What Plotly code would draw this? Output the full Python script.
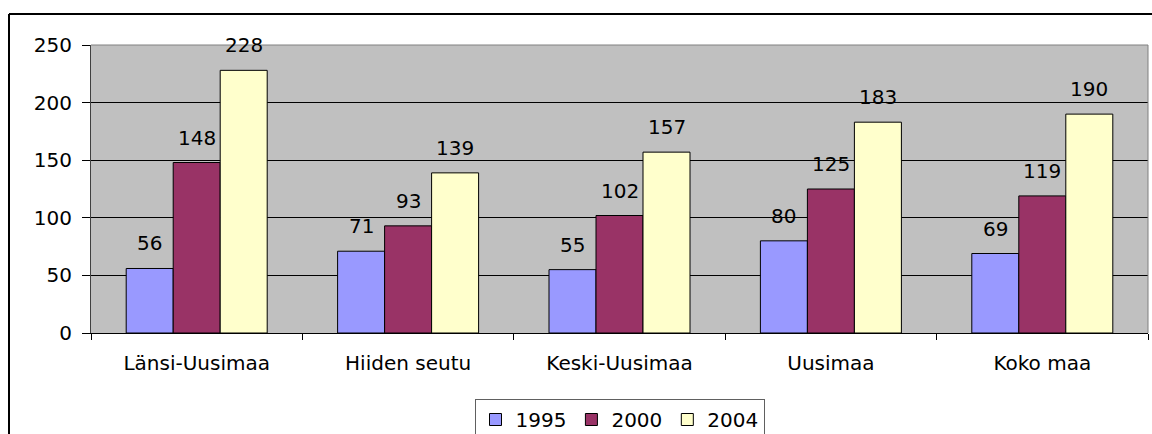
import plotly.graph_objects as go

categories = ["Länsi-Uusimaa", "Hiiden seutu", "Keski-Uusimaa", "Uusimaa", "Koko maa"]
series_names = ["1995", "2000", "2004"]
v1995 = [56, 71, 55, 80, 69]
v2000 = [148, 93, 102, 125, 119]
v2004 = [228, 139, 157, 183, 190]
y_ticks = [0, 50, 100, 150, 200, 250]

colors = ["#9999FF", "#993366", "#FFFFCC"]
FONT = "DejaVu Sans"
FS = 20

W, H = 1152, 434
ML, MR, MT, MB = 91, 4, 45, 101
BARGAP = 0.333

fig = go.Figure()
all_vals = [v1995, v2000, v2004]
for name, vals, col in zip(series_names, all_vals, colors):
    fig.add_trace(go.Bar(
        name=name, x=categories, y=vals,
        marker=dict(color=col, line=dict(color="#000000", width=1)),
    ))

# data labels above bars
bw = (1 - BARGAP) / len(all_vals)
annotations = []
for k, vals in enumerate(all_vals):
    off = (k - (len(all_vals) - 1) / 2) * bw
    for i, v in enumerate(vals):
        annotations.append(dict(
            x=i + off, y=v, xref="x", yref="y", text=str(v),
            showarrow=False, yanchor="bottom", xanchor="center",
            yshift=11, font=dict(family=FONT, size=FS, color="#000000"),
        ))

pw = W - ML - MR
ph = H - MT - MB
def px_x(x):
    return (x - ML) / pw
def px_y(y):
    return (H - MB - y) / ph

shapes = [
    # gray plot border top/right
    dict(type="line", xref="paper", yref="paper", x0=0, x1=1, y0=1, y1=1,
         line=dict(color="#808080", width=1), layer="above"),
    dict(type="line", xref="paper", yref="paper", x0=1, x1=1, y0=0, y1=1,
         line=dict(color="#808080", width=1), layer="above"),
    # outer chart border (left and top)
    dict(type="line", xref="paper", yref="paper", x0=px_x(9), x1=px_x(W + 20),
         y0=px_y(14), y1=px_y(14), line=dict(color="#000000", width=2)),
    dict(type="line", xref="paper", yref="paper", x0=px_x(9), x1=px_x(9),
         y0=px_y(14), y1=px_y(H + 20), line=dict(color="#000000", width=2)),
]

fig.update_layout(
    width=W, height=H, autosize=False,
    margin=dict(l=ML, r=MR, t=MT, b=MB),
    paper_bgcolor="#FFFFFF", plot_bgcolor="#C0C0C0",
    barmode="group", bargap=BARGAP, bargroupgap=0,
    font=dict(family=FONT, size=FS, color="#000000"),
    showlegend=True,
    legend=dict(orientation="h", x=px_x(619.5), xanchor="center", xref="paper",
                y=1 - 399 / H, yanchor="top", yref="container",
                bordercolor="#606060", borderwidth=1, bgcolor="#FFFFFF",
                font=dict(family=FONT, size=FS), itemwidth=30,
                tracegroupgap=0),
    annotations=annotations,
    shapes=shapes,
)
fig.update_xaxes(
    type="category", showline=True, linecolor="#000000", linewidth=1,
    ticks="outside", tickson="boundaries", ticklen=6, tickcolor="#000000",
    showgrid=False, ticklabelstandoff=12,
)
fig.update_yaxes(
    range=[0, 250], tickvals=y_ticks, showline=True, linecolor="#404040", linewidth=1,
    ticks="outside", ticklen=8, tickcolor="#000000",
    showgrid=True, gridcolor="#000000", gridwidth=1, zeroline=False,
    ticklabelstandoff=6,
)

fig.write_html(
    "out.html",
    config={"displayModeBar": False},
    post_script="document.body.style.margin='0';document.body.style.overflow='hidden';",
)
